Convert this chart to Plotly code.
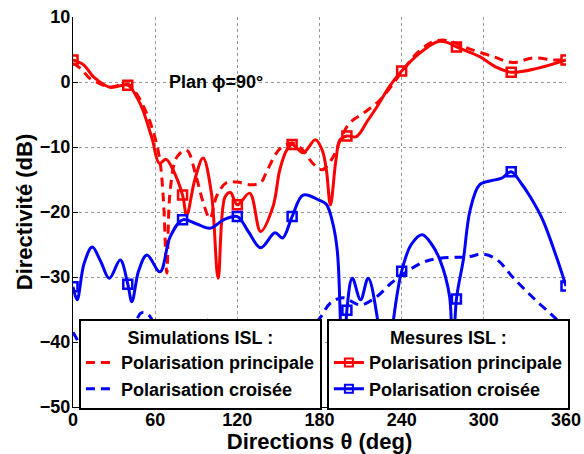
import plotly.graph_objects as go

# --- data (theta in deg, directivity in dB) ---
sim_co_theta = [0, 6, 12, 20, 27, 40, 47, 52, 57.5, 63, 66, 68.5, 71, 76, 83, 90, 95, 100, 105, 112,
                120, 129, 137, 142, 151, 160, 168, 175, 182, 190, 196, 202, 212, 224, 234, 240, 251,
                263, 273, 288, 307, 321, 336, 351, 360]
sim_co_db = [2.9, 2.0, 0.6, -0.3, -0.8, -0.3, -2.0, -4.0, -6.9, -11.5, -18.0, -29.4, -16.6, -11.5, -10.5,
             -14.6, -18.5, -21.0, -17.5, -15.5, -15.4, -15.8, -15.5, -13.5, -10.3, -9.4, -10.5, -12.5,
             -13.5, -11.5, -8.5, -6.3, -4.8, -2.8, -0.2, 1.5, 4.4, 6.2, 6.4, 5.2, 3.9, 3.0, 3.7, 3.4, 3.4]

sim_cx_theta = [0, 5, 12, 20, 25, 30, 35, 42, 50, 56, 62, 70, 78, 86, 96, 104, 112, 120, 140, 160,
                172, 180, 188, 197, 210, 222, 232, 240, 256, 268, 288, 300, 310, 321, 336, 352, 360]
sim_cx_db = [-38.5, -40.5, -45.0, -49.0, -50.0, -49.5, -47.0, -40.0, -35.5, -36.0, -40.0, -45.0, -43.0,
             -38.0, -36.5, -38.0, -44.0, -47.0, -44.0, -40.0, -38.0, -36.4, -34.0, -33.2, -34.3, -33.0,
             -31.0, -29.7, -27.7, -27.1, -26.9, -26.5, -27.4, -30.0, -33.2, -36.3, -38.0]

mes_co_theta = [0, 8, 15, 27, 40, 47, 51, 58, 63, 68, 73, 80, 83, 89, 95, 101, 106, 111, 115, 120,
                129, 137, 146, 151, 156, 160, 168, 177, 182, 185, 188, 192, 195, 200, 207, 215, 222,
                231, 240, 253, 266, 273, 280, 297, 309, 320, 339, 360]
mes_co_db = [3.4, 2.6, 0.8, -0.8, -0.5, -2.5, -4.3, -8.9, -12.5, -11.9, -13.5, -17.4, -20.5, -15.0,
             -11.7, -17.0, -30.2, -17.7, -17.0, -18.9, -17.1, -23.0, -19.2, -13.5, -10.5, -9.6, -10.9,
             -8.9, -10.5, -13.5, -18.9, -12.0, -8.9, -8.3, -8.4, -6.0, -3.8, -0.7, 1.7, 4.4, 6.2, 6.1,
             5.4, 3.9, 2.3, 1.5, 2.1, 3.4]

mes_cx_theta = [0, 3, 8, 14, 20, 26.5, 34.5, 40, 43, 48, 54, 63.5, 71, 80, 90, 100, 110, 120, 128, 137,
                147.5, 153, 160, 168, 180, 185, 190, 193, 195, 197, 200, 204, 210, 215.5, 222, 228, 234,
                240, 247, 255, 262, 268, 275, 277, 280, 285, 290, 297, 307, 313, 320, 327, 334, 343,
                353, 360]
mes_cx_db = [-31.5, -33.5, -28.0, -25.4, -27.5, -30.2, -27.4, -31.1, -33.8, -29.0, -26.6, -29.2, -23.8,
             -21.2, -21.8, -22.5, -21.2, -20.7, -23.0, -25.5, -23.2, -24.0, -20.7, -17.4, -18.2, -18.8,
             -22.0, -26.0, -35.0, -55.0, -35.1, -30.2, -33.5, -30.2, -36.0, -50.0, -36.6, -29.1, -25.0,
             -23.5, -25.0, -27.4, -33.0, -45.0, -33.4, -27.4, -19.7, -15.8, -15.1, -14.8, -13.8, -15.5,
             -17.7, -21.2, -26.9, -31.4]

x_ticks = [0, 60, 120, 180, 240, 300, 360]
y_ticks = [10, 0, -10, -20, -30, -40, -50]

RED = "#ff0000"
BLUE = "#0000ff"
FONT = "Liberation Sans, Arial, sans-serif"

fig = go.Figure()

# simulations (dashed)
fig.add_trace(go.Scatter(x=sim_co_theta, y=sim_co_db, mode="lines", line_shape="spline",
                         line=dict(color=RED, width=3, dash="9px,6px"),
                         name="Polarisation principale", legend="legend"))
fig.add_trace(go.Scatter(x=sim_cx_theta, y=sim_cx_db, mode="lines", line_shape="spline",
                         line=dict(color=BLUE, width=3, dash="9px,6px"),
                         name="Polarisation croisée", legend="legend"))

# measurements (solid + square markers every 40 deg)
for th, db, col in [(mes_co_theta, mes_co_db, RED), (mes_cx_theta, mes_cx_db, BLUE)]:
    fig.add_trace(go.Scatter(x=th, y=db, mode="lines", line_shape="spline",
                             line=dict(color=col, width=3), showlegend=False))
    mk = [i for i, t in enumerate(th) if t % 40 == 0]
    fig.add_trace(go.Scatter(x=[th[i] for i in mk], y=[db[i] for i in mk], mode="markers",
                             marker=dict(symbol="square-open", size=9, color=col,
                                         line=dict(width=2.5, color=col)),
                             showlegend=False))

for col, nm in [(RED, "Polarisation principale"), (BLUE, "Polarisation croisée")]:
    fig.add_trace(go.Scatter(x=[None], y=[None], mode="lines+markers",
                             line=dict(color=col, width=3),
                             marker=dict(symbol="square-open", size=8, color=col,
                                         line=dict(width=2, color=col)),
                             name=nm, legend="legend2"))

fig.add_annotation(x=69, y=0, xref="x", yref="y", text="Plan ϕ=90°", showarrow=False,
                   xanchor="left", yanchor="middle", font=dict(size=18))
fig.add_annotation(x=0.446, y=1.045, xref="paper", yref="paper", text="(a)", showarrow=False,
                   xanchor="center", yanchor="bottom", font=dict(size=18))

leg = dict(bgcolor="white", bordercolor="black", borderwidth=2, font=dict(size=18),
           yanchor="top", xanchor="left", y=0.226, tracegroupgap=0, itemwidth=30)
fig.update_layout(
    width=584, height=454,
    margin=dict(l=73, r=18, t=17, b=47),
    paper_bgcolor="white", plot_bgcolor="white",
    font=dict(family=FONT, size=18, color="black", weight="bold"),
    legend=dict(leg, x=0.012, title=dict(text="Simulations ISL :", side="top center",
                                         font=dict(size=18))),
    legend2=dict(leg, x=0.515, title=dict(text="Mesures ISL :", side="top center",
                                          font=dict(size=18))),
    xaxis=dict(range=[0, 360], tickvals=x_ticks, showline=True, linecolor="black", linewidth=1,
               ticks="inside", ticklen=5, tickcolor="black", showgrid=True, gridcolor="#999",
               griddash="dot", gridwidth=1, zeroline=False, automargin=False,
               ticklabelstandoff=-4,
               title=dict(text="Directions θ (deg)", standoff=7)),
    yaxis=dict(range=[-50, 10], tickvals=y_ticks, showline=True, linecolor="black", linewidth=1,
               ticks="inside", ticklen=5, tickcolor="black", showgrid=True, gridcolor="#999",
               griddash="dot", gridwidth=1, zeroline=False, automargin=False,
               ticklabelstandoff=-2,
               title=dict(text="Directivité (dB)", standoff=1)),
)

# drop the page's default 8px body margin so the figure sits at the window corner
fig.write_html("out.html", config={"displayModeBar": False},
               post_script="document.body.style.margin='0';")
